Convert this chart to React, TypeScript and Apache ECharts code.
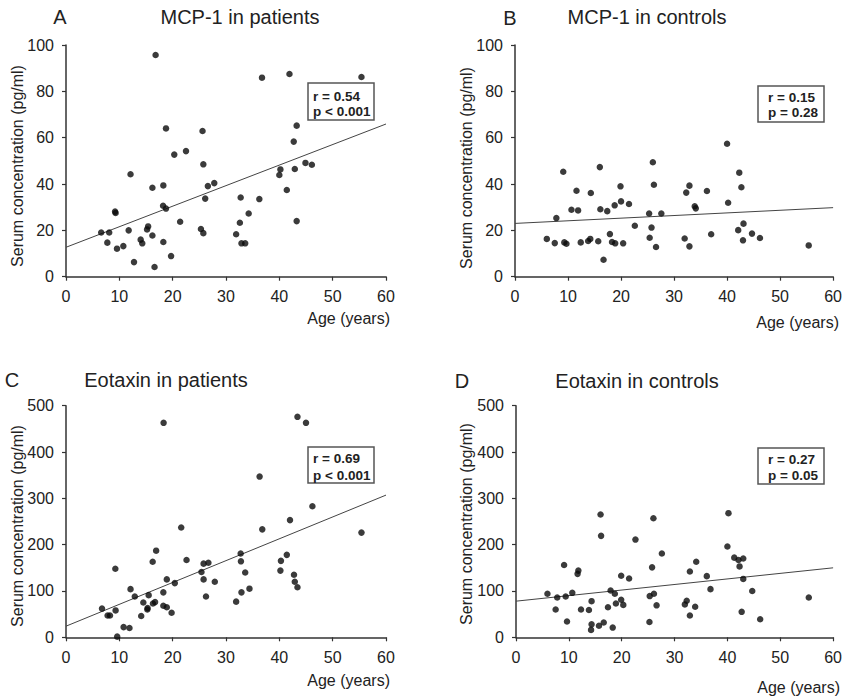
import React, { useEffect, useRef } from "react";
import * as echarts from "echarts";

// ---------- data (age in years, serum concentration in pg/ml) ----------
const mcpPatients: [number, number][] = [
  [16.8, 95.7], [18.75, 64.0], [25.6, 62.9], [20.3, 52.7], [22.5, 54.2], [25.75, 48.5], [12.1, 44.2],
  [16.2, 38.4], [18.25, 39.4], [26.6, 39.1], [27.8, 40.4], [18.2, 30.6], [18.75, 29.4], [26.1, 33.7],
  [9.2, 28.1], [9.3, 27.5], [21.4, 23.7], [6.6, 19.1], [8.1, 19.1], [11.75, 20.0], [15.4, 21.7],
  [15.2, 20.4], [25.3, 20.6], [25.75, 18.8], [7.75, 14.7], [9.56, 12.1], [10.75, 13.2], [14.0, 16.0],
  [14.3, 14.4], [16.2, 17.8], [18.25, 15.0], [12.75, 6.3], [16.6, 4.2], [19.7, 8.9],
  [36.75, 85.9], [41.9, 87.5], [55.4, 86.2], [43.25, 65.2], [42.7, 58.3], [40.2, 46.3], [40.0, 43.9],
  [42.9, 46.5], [44.9, 49.1], [46.1, 48.3], [41.4, 37.4], [32.75, 34.2], [36.25, 33.5], [34.25, 27.3],
  [32.6, 23.3], [31.9, 18.3], [32.9, 14.4], [33.6, 14.4], [43.25, 24.0],
];
const mcpControls: [number, number][] = [
  [9.1, 45.3], [16.0, 47.3], [26.0, 49.4], [26.2, 39.7], [19.9, 39.0], [11.6, 37.1], [14.3, 36.1],
  [20.0, 32.5], [18.8, 30.8], [21.5, 31.4], [10.65, 28.9], [11.9, 28.6], [16.1, 29.1], [17.4, 28.3],
  [25.3, 27.3], [27.6, 27.3], [7.8, 25.3], [22.6, 22.0], [25.75, 21.2], [17.9, 18.4], [6.0, 16.3],
  [7.5, 14.5], [9.3, 14.8], [9.7, 14.2], [12.4, 14.8], [13.8, 15.4], [14.2, 16.3], [15.7, 15.3],
  [18.3, 15.0], [18.9, 14.4], [20.4, 14.4], [25.4, 16.8], [26.6, 12.8], [16.7, 7.3],
  [40.0, 57.4], [42.3, 44.9], [42.7, 38.6], [32.9, 39.3], [32.3, 36.3], [36.2, 37.0], [33.9, 30.4],
  [34.1, 29.5], [40.2, 31.9], [43.1, 22.9], [42.1, 20.1], [44.7, 18.6], [46.2, 16.7], [37.0, 18.3],
  [32.0, 16.5], [32.9, 13.1], [43.0, 15.7], [55.4, 13.5],
];
const eotaxinPatients: [number, number][] = [
  [18.3, 463], [21.6, 237], [16.9, 187], [22.6, 167], [16.25, 163], [9.25, 148], [18.9, 125],
  [20.4, 117], [12.1, 104], [18.25, 97], [12.9, 88], [15.5, 91], [14.5, 75], [16.7, 76], [16.3, 73],
  [15.3, 63], [15.25, 60], [18.25, 68], [18.9, 65], [19.8, 53], [6.75, 62], [9.3, 58], [7.8, 47],
  [8.25, 47], [14.1, 46], [10.8, 22], [11.9, 20], [9.6, 1.4], [25.4, 141], [25.8, 125], [25.8, 159],
  [26.7, 161], [27.9, 120], [26.25, 88],
  [43.4, 476], [45.0, 463], [36.3, 347], [46.2, 283], [42.0, 253], [36.8, 233], [55.4, 226],
  [32.75, 181], [32.8, 164], [33.6, 140], [34.4, 105], [32.9, 97], [31.9, 77], [41.4, 178],
  [40.3, 165], [40.2, 144], [42.75, 135], [42.9, 120], [43.4, 108],
];
const eotaxinControls: [number, number][] = [
  [16.0, 265], [16.1, 219], [26.0, 257], [22.6, 211], [27.6, 181], [9.1, 156], [25.75, 151],
  [11.8, 144], [11.65, 137], [19.9, 133], [21.4, 127], [5.95, 94], [7.8, 86], [9.4, 88], [10.65, 96],
  [17.9, 101], [18.7, 94], [25.3, 89], [26.1, 94], [7.5, 60], [12.3, 60], [13.8, 59], [14.3, 78],
  [18.9, 73], [19.9, 81], [20.3, 70], [17.4, 65], [26.6, 69], [9.65, 34], [25.25, 33], [14.3, 28],
  [14.2, 16], [15.7, 25], [16.6, 32], [18.3, 21],
  [40.2, 268], [40.0, 196], [41.3, 172], [42.1, 167], [43.0, 170], [42.3, 153], [34.1, 163],
  [32.9, 142], [36.1, 132], [43.0, 126], [36.8, 104], [44.7, 100], [55.4, 86], [32.3, 79],
  [31.95, 71], [33.9, 66], [32.9, 47], [42.7, 55], [46.2, 39],
];

// regression lines: [age, value] at both ends
const fitMcpPatients: [number, number][] = [[0, 12.7], [60, 65.9]];
const fitMcpControls: [number, number][] = [[0, 23], [60, 29.8]];
const fitEotaxinPatients: [number, number][] = [[0, 24], [60, 307]];
const fitEotaxinControls: [number, number][] = [[0, 78], [60, 150]];

const panelLetters = ["A", "B", "C", "D"];
const panelTitles = ["MCP-1 in patients", "MCP-1 in controls", "Eotaxin in patients", "Eotaxin in controls"];
const statR = ["r = 0.54", "r = 0.15", "r = 0.69", "r = 0.27"];
const statP = ["p < 0.001", "p = 0.28", "p < 0.001", "p = 0.05"];
const yMax = [100, 100, 500, 500];
const yStep = [20, 20, 100, 100];
const xMax = 60;
const xStep = 10;
const yName = "Serum concentration (pg/ml)";
const xName = "Age (years)";

const FONT = '"Liberation Sans", Arial, sans-serif';
const INK = "#222";

// layout per panel
const grids = [
  { left: 66, top: 45, width: 320, height: 231.7 },
  { left: 515, top: 45, width: 319.3, height: 231.7 },
  { left: 66, top: 405.7, width: 320, height: 231.6 },
  { left: 516, top: 405.7, width: 319, height: 231.6 },
];
const letterPos = [[60, 17], [510, 18], [12, 380], [462, 381]];
const titlePos = [[240, 17], [647, 17], [166, 380], [637, 381]];
const yNamePos = [[17, 166], [466, 168], [17, 526], [466, 524]];
const xNamePos = [[390, 318], [839, 322], [390, 680], [840, 687]];
const boxPos = [
  { x: 308, y: 83, w: 66, h: 37, tx: 313, r: 96.5, p: 111.5 },
  { x: 758, y: 86, w: 66, h: 36, tx: 768, r: 97, p: 112.3 },
  { x: 308, y: 447, w: 66, h: 36, tx: 313, r: 458.3, p: 475 },
  { x: 758, y: 448, w: 66, h: 36, tx: 768, r: 459, p: 475 },
];

export default function App() {
  const ref = useRef<HTMLDivElement>(null);
  useEffect(() => {
    if (!ref.current) return;
    const chart = echarts.init(ref.current, undefined, { renderer: "svg" });
    const scatterData = [mcpPatients, mcpControls, eotaxinPatients, eotaxinControls];
    const fitData = [fitMcpPatients, fitMcpControls, fitEotaxinPatients, fitEotaxinControls];

    const axisLine = { show: true, lineStyle: { color: "#333", width: 1.5 } };
    const axisTick = { show: true, inside: false, length: 4, lineStyle: { color: "#333", width: 1.2 } };

    const graphic: any[] = [];
    for (let i = 0; i < 4; i++) {
      graphic.push({
        type: "text", x: letterPos[i][0], y: letterPos[i][1],
        style: { text: panelLetters[i], fontSize: 20, fontFamily: FONT, fill: INK, align: "center", verticalAlign: "middle" },
      });
      graphic.push({
        type: "text", x: titlePos[i][0], y: titlePos[i][1],
        style: { text: panelTitles[i], fontSize: 20, fontFamily: FONT, fill: INK, align: "center", verticalAlign: "middle" },
      });
      graphic.push({
        type: "text", x: yNamePos[i][0], y: yNamePos[i][1], rotation: Math.PI / 2,
        style: { text: yName, fontSize: 16, fontFamily: FONT, fill: INK, align: "center", verticalAlign: "middle" },
      });
      graphic.push({
        type: "text", x: xNamePos[i][0], y: xNamePos[i][1],
        style: { text: xName, fontSize: 16, fontFamily: FONT, fill: INK, align: "right", verticalAlign: "middle" },
      });
      const b = boxPos[i];
      graphic.push({
        type: "rect", z: 10,
        shape: { x: b.x, y: b.y, width: b.w, height: b.h },
        style: { fill: "#fff", stroke: "#555", lineWidth: 1.5 },
      });
      graphic.push({
        type: "text", z: 11, x: b.tx, y: b.r,
        style: { text: statR[i], fontSize: 13.5, fontWeight: "bold", fontFamily: FONT, fill: INK, align: "left", verticalAlign: "middle" },
      });
      graphic.push({
        type: "text", z: 11, x: b.tx, y: b.p,
        style: { text: statP[i], fontSize: 13.5, fontWeight: "bold", fontFamily: FONT, fill: INK, align: "left", verticalAlign: "middle" },
      });
    }

    const option: any = {
      animation: false,
      backgroundColor: "#fff",
      grid: grids.map((g) => ({ ...g, containLabel: false })),
      xAxis: grids.map((_, i) => ({
        type: "value", gridIndex: i, min: 0, max: xMax, interval: xStep,
        axisLine, axisTick, splitLine: { show: false },
        axisLabel: { fontSize: 16, fontFamily: FONT, color: INK, margin: 12 },
      })),
      yAxis: grids.map((_, i) => ({
        type: "value", gridIndex: i, min: 0, max: yMax[i], interval: yStep[i],
        axisLine, axisTick, splitLine: { show: false },
        axisLabel: { fontSize: 16, fontFamily: FONT, color: INK, margin: 12 },
      })),
      series: [
        ...scatterData.map((d, i) => ({
          type: "scatter", xAxisIndex: i, yAxisIndex: i, data: d,
          symbol: "circle", symbolSize: 6.5, itemStyle: { color: "#0a0a0a" }, z: 3,
        })),
        ...fitData.map((d, i) => ({
          type: "line", xAxisIndex: i, yAxisIndex: i, data: d, symbol: "none",
          lineStyle: { color: "#444", width: 1 }, z: 2,
        })),
      ],
      graphic,
    };
    chart.setOption(option);
    return () => chart.dispose();
  }, []);
  return (
    <div
      ref={ref}
      style={{ position: "fixed", left: 0, top: 0, width: 845, height: 698, background: "#fff" }}
    />
  );
}
